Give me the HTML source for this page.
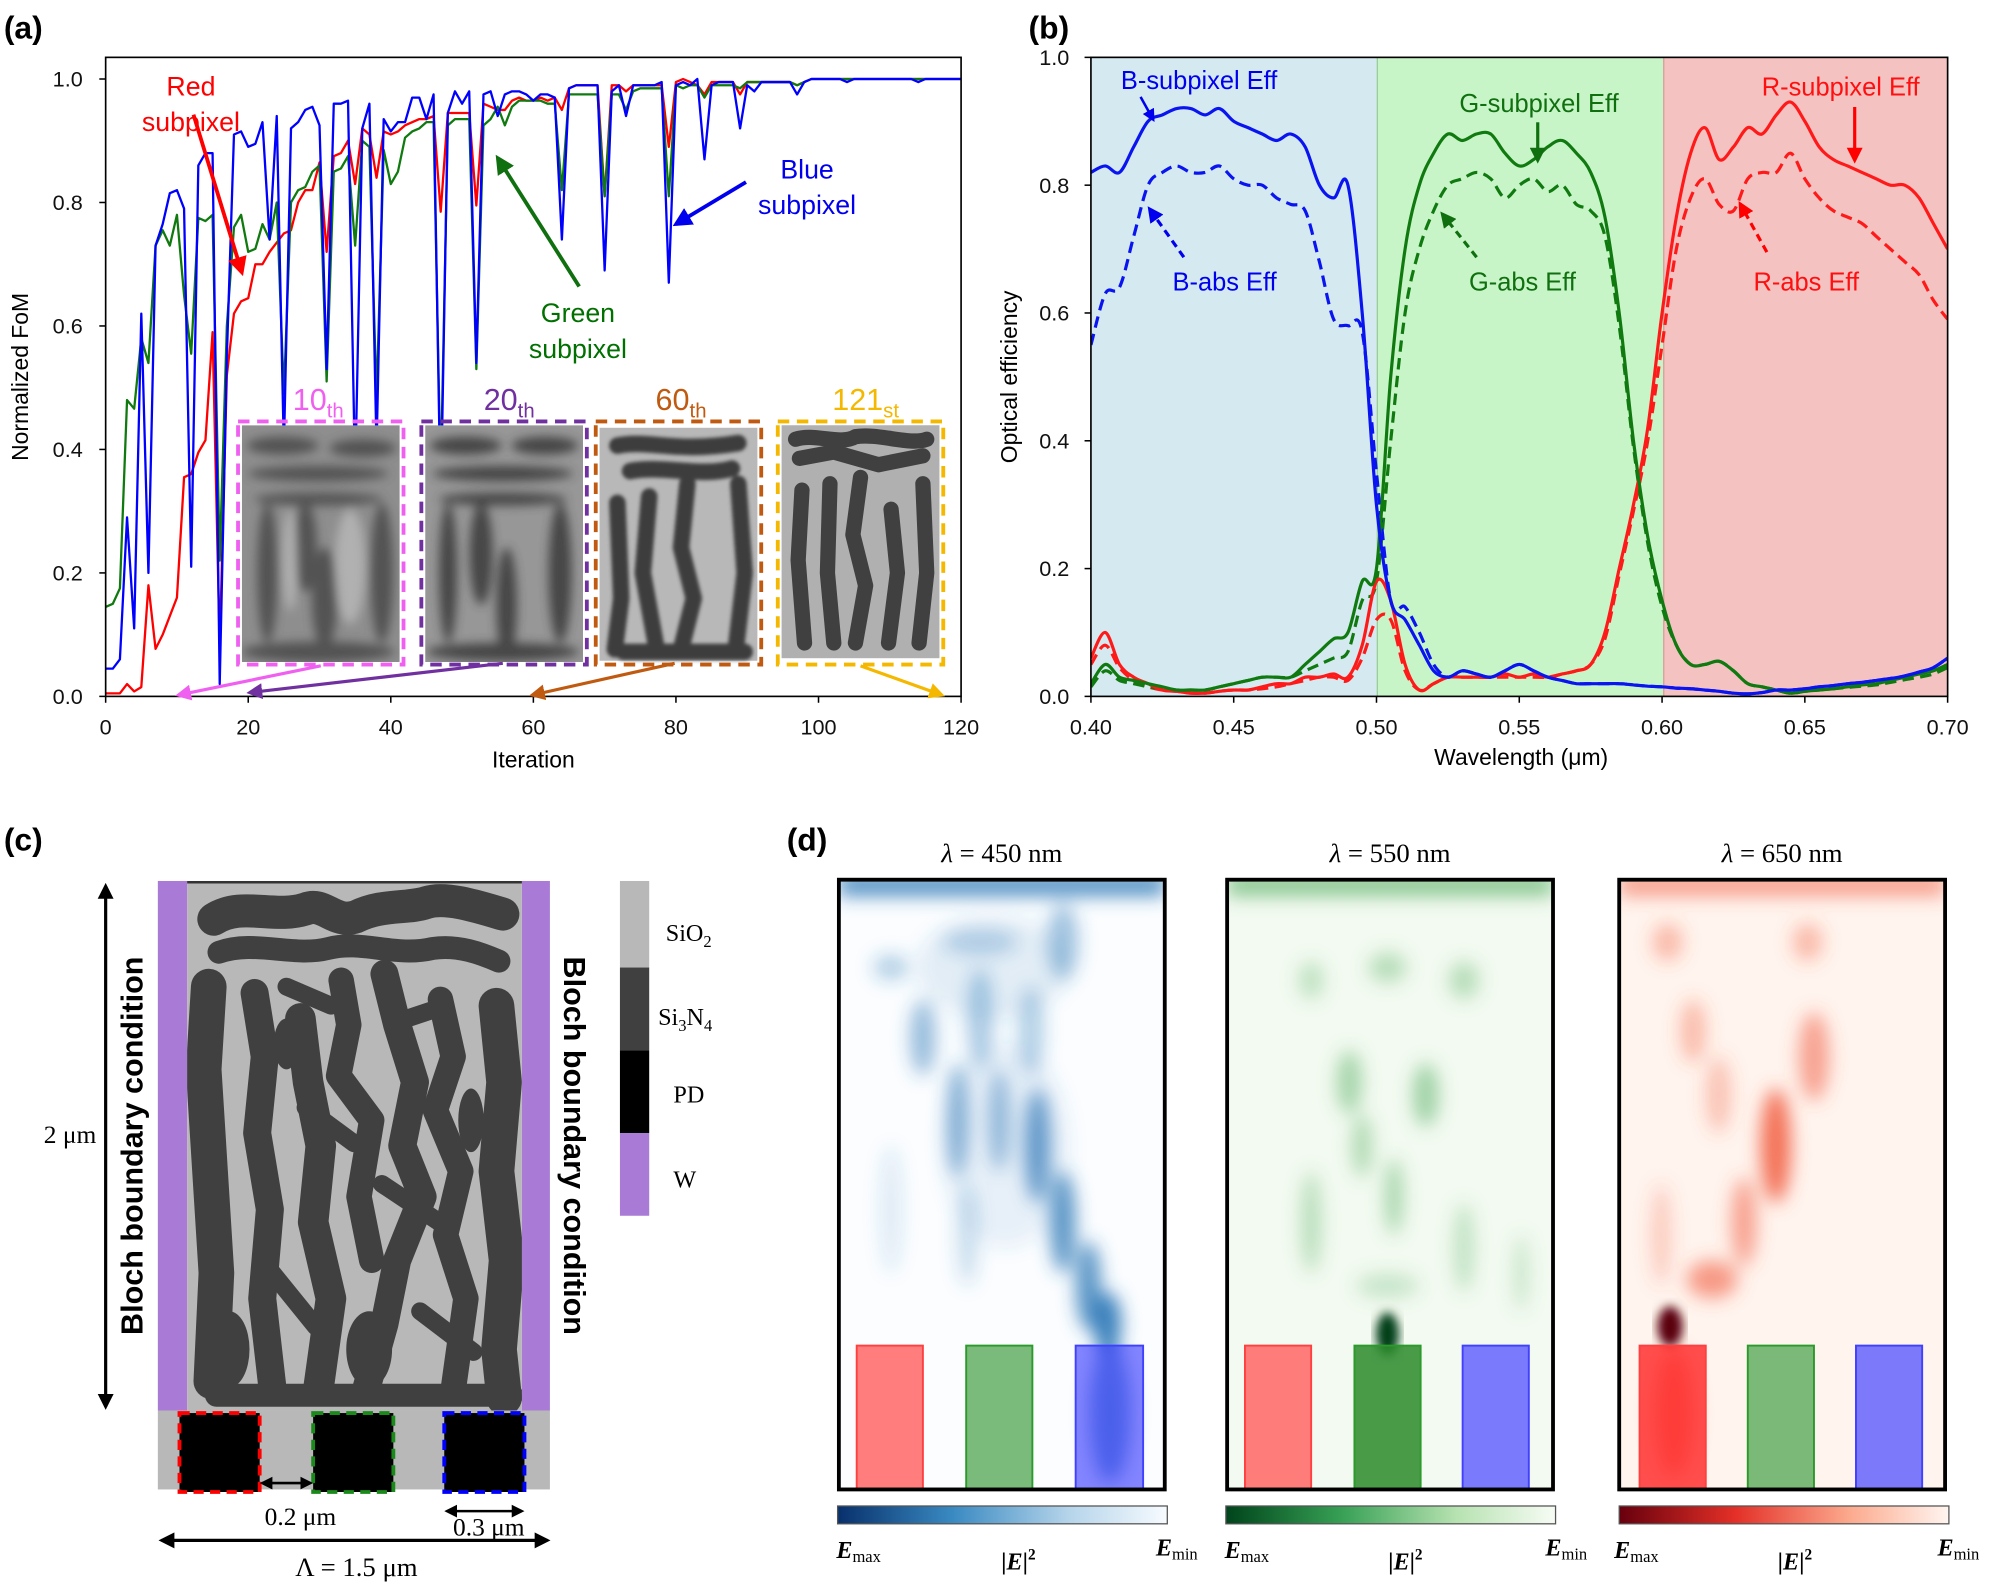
<!DOCTYPE html>
<html><head><meta charset="utf-8"><style>
html,body{margin:0;padding:0;background:#fff;}
svg{display:block;font-family:"Liberation Sans",sans-serif;}
.tk{font-size:17px;fill:#111;}
.serif{font-family:"Liberation Serif",serif;}
</style></head><body>
<svg id="fig" width="1996" height="1585" viewBox="0 0 1568 1245" xmlns="http://www.w3.org/2000/svg">
<defs>
<filter id="blur4" x="-20%" y="-20%" width="140%" height="140%"><feGaussianBlur stdDeviation="4"/></filter>
<filter id="blur7" x="-30%" y="-30%" width="160%" height="160%"><feGaussianBlur stdDeviation="7"/></filter>
<filter id="blur2"><feGaussianBlur stdDeviation="1.5"/></filter>
<clipPath id="clipA"><rect x="83" y="45" width="672" height="502"/></clipPath>
<clipPath id="clipB"><rect x="857" y="45" width="673" height="502"/></clipPath>
<clipPath id="m1"><rect x="659" y="691" width="256" height="479"/></clipPath>
<clipPath id="m2"><rect x="964" y="691" width="256" height="479"/></clipPath>
<clipPath id="m3"><rect x="1272" y="691" width="256" height="479"/></clipPath>
<clipPath id="cC"><rect x="147" y="692" width="263" height="416"/></clipPath>
<clipPath id="i1"><rect x="190" y="334" width="124" height="186"/></clipPath>
<clipPath id="i2"><rect x="334" y="334" width="124" height="186"/></clipPath>
<linearGradient id="cbB" x1="0" x2="1"><stop offset="0" stop-color="#08306b"/><stop offset="0.35" stop-color="#3a8ac2"/><stop offset="0.7" stop-color="#b5d4ea"/><stop offset="1" stop-color="#f7fbff"/></linearGradient>
<linearGradient id="cbG" x1="0" x2="1"><stop offset="0" stop-color="#00441b"/><stop offset="0.35" stop-color="#37a055"/><stop offset="0.7" stop-color="#b7e2b1"/><stop offset="1" stop-color="#f7fcf5"/></linearGradient>
<linearGradient id="cbR" x1="0" x2="1"><stop offset="0" stop-color="#67000d"/><stop offset="0.35" stop-color="#e32f27"/><stop offset="0.7" stop-color="#fcaa8e"/><stop offset="1" stop-color="#fff5f0"/></linearGradient>
<marker id="ah" viewBox="0 0 10 10" refX="8" refY="5" markerWidth="5" markerHeight="5" orient="auto-start-reverse"><path d="M0,0 L10,5 L0,10 z" fill="context-stroke"/></marker>
</defs>

<text x="3" y="30" font-size="25" font-weight="bold">(a)</text>
<text x="808" y="30" font-size="25" font-weight="bold">(b)</text>
<text x="3" y="668" font-size="25" font-weight="bold">(c)</text>
<text x="618" y="668" font-size="25" font-weight="bold">(d)</text>

<!-- Panel (a) -->
<g id="panelA">
  <g id="aLines" clip-path="url(#clipA)"></g>
  <g id="aTicks"></g>
  <rect x="83" y="45" width="672" height="502" fill="none" stroke="#000" stroke-width="1.3"/>
  <text x="419" y="603" text-anchor="middle" font-size="18">Iteration</text>
  <text x="0" y="0" transform="translate(22,296) rotate(-90)" text-anchor="middle" font-size="18">Normalized FoM</text>

  <g>
    <g clip-path="url(#i1)">
    <rect x="190" y="334" width="124" height="186" fill="#8e8e8e"/>
    <g filter="url(#blur4)" fill="#4a4a4a" opacity="0.85">
      <ellipse cx="222" cy="350" rx="28" ry="7"/><ellipse cx="285" cy="352" rx="26" ry="7"/>
      <ellipse cx="250" cy="372" rx="55" ry="6"/><ellipse cx="250" cy="392" rx="50" ry="5"/>
      <ellipse cx="210" cy="450" rx="8" ry="55"/><ellipse cx="240" cy="430" rx="9" ry="35"/>
      <ellipse cx="255" cy="470" rx="10" ry="40"/><ellipse cx="300" cy="450" rx="9" ry="55"/>
      <ellipse cx="250" cy="512" rx="60" ry="8"/>
    </g>
    <g filter="url(#blur4)" fill="#c0c0c0" opacity="0.7"><ellipse cx="228" cy="440" rx="6" ry="40"/><ellipse cx="275" cy="445" rx="12" ry="45"/></g>
    </g>
    <rect x="187" y="331" width="130" height="191" fill="none" stroke="#f060f0" stroke-width="3" stroke-dasharray="9,6"/>
  </g>
  <g>
    <g clip-path="url(#i2)">
    <rect x="334" y="334" width="124" height="186" fill="#979797"/>
    <g filter="url(#blur4)" fill="#3e3e3e" opacity="0.9">
      <ellipse cx="366" cy="350" rx="28" ry="7"/><ellipse cx="428" cy="350" rx="26" ry="7"/>
      <ellipse cx="395" cy="372" rx="55" ry="6"/><ellipse cx="395" cy="392" rx="50" ry="5"/>
      <ellipse cx="352" cy="450" rx="7" ry="55"/>
      <ellipse cx="378" cy="435" rx="9" ry="40"/><ellipse cx="398" cy="475" rx="8" ry="45"/>
      <ellipse cx="440" cy="450" rx="9" ry="55"/><ellipse cx="395" cy="512" rx="60" ry="7"/>
    </g>
    </g>
    <rect x="331" y="331" width="130" height="191" fill="none" stroke="#7030a0" stroke-width="3" stroke-dasharray="9,6"/>
  </g>
  <g>
    <rect x="471" y="336" width="124" height="183" fill="#b8b8b8"/>
    <g filter="url(#blur2)" fill="none" stroke="#3c3c3c" stroke-width="13" stroke-linecap="round" stroke-linejoin="round">
      <path d="M485,350 C510,345 530,356 580,348"/><path d="M495,370 C520,365 550,375 575,368"/>
      <path d="M485,395 L488,470 L483,510"/><path d="M510,390 L505,450 L515,505"/>
      <path d="M540,380 L535,430 L545,470 L535,510"/><path d="M580,380 L585,450 L578,510"/>
      <path d="M490,512 L585,512"/>
    </g>
    <rect x="468" y="331" width="130" height="191" fill="none" stroke="#c05a10" stroke-width="3" stroke-dasharray="9,6"/>
  </g>
  <g>
    <rect x="614" y="334" width="124" height="183" fill="#b0b0b0"/>
    <g fill="none" stroke="#404040" stroke-width="12" stroke-linecap="round" stroke-linejoin="round">
      <path d="M625,345 C640,340 660,350 672,343 C690,340 715,350 728,345"/><path d="M628,360 L655,355 L690,365 L725,358"/>
      <path d="M630,385 L627,440 L632,505"/><path d="M652,380 L650,450 L655,505"/>
      <path d="M676,375 L670,420 L680,460 L672,505"/><path d="M700,400 L705,450 L698,505"/>
      <path d="M725,380 L728,450 L722,505"/>
    </g>
    <rect x="611" y="331" width="130" height="191" fill="none" stroke="#f5b800" stroke-width="3" stroke-dasharray="9,6"/>
  </g>
  <text x="250" y="322" text-anchor="middle" font-size="24" fill="#f060f0">10<tspan font-size="16" dy="6">th</tspan></text>
  <text x="400" y="322" text-anchor="middle" font-size="24" fill="#7030a0">20<tspan font-size="16" dy="6">th</tspan></text>
  <text x="535" y="322" text-anchor="middle" font-size="24" fill="#c05a10">60<tspan font-size="16" dy="6">th</tspan></text>
  <text x="680" y="322" text-anchor="middle" font-size="24" fill="#f5b800">121<tspan font-size="16" dy="6">st</tspan></text>
  <line x1="252" y1="523" x2="140" y2="546" stroke="#f060f0" stroke-width="2.5" marker-end="url(#ah)"/>
  <line x1="395" y1="521" x2="196" y2="544" stroke="#7030a0" stroke-width="2.5" marker-end="url(#ah)"/>
  <line x1="530" y1="521" x2="418" y2="546" stroke="#c05a10" stroke-width="2.5" marker-end="url(#ah)"/>
  <line x1="676" y1="523" x2="740" y2="546" stroke="#f5b800" stroke-width="2.5" marker-end="url(#ah)"/>

  <text x="150" y="75" text-anchor="middle" font-size="21" fill="#f00">Red</text>
  <text x="150" y="103" text-anchor="middle" font-size="21" fill="#f00">subpixel</text>
  <line x1="152" y1="90" x2="190" y2="214" stroke="#f00" stroke-width="3" marker-end="url(#ah)"/>
  <text x="634" y="140" text-anchor="middle" font-size="21" fill="#0000ee">Blue</text>
  <text x="634" y="168" text-anchor="middle" font-size="21" fill="#0000ee">subpixel</text>
  <line x1="586" y1="143" x2="531" y2="176" stroke="#00e" stroke-width="3" marker-end="url(#ah)"/>
  <text x="454" y="253" text-anchor="middle" font-size="21" fill="#007000">Green</text>
  <text x="454" y="281" text-anchor="middle" font-size="21" fill="#007000">subpixel</text>
  <line x1="455" y1="225" x2="391" y2="124" stroke="#107010" stroke-width="3" marker-end="url(#ah)"/>
</g>

<!-- Panel (b) -->
<g id="panelB">
  <rect x="857" y="45" width="225" height="502" fill="#d4eaf0"/>
  <rect x="1082" y="45" width="225" height="502" fill="#c8f5c8"/>
  <rect x="1307" y="45" width="223" height="502" fill="#f5c2c2"/>
  <line x1="1082" y1="45" x2="1082" y2="547" stroke="#9c9" stroke-width="1"/>
  <line x1="1307" y1="45" x2="1307" y2="547" stroke="#d99" stroke-width="1"/>
  <g id="bLines" clip-path="url(#clipB)"></g>
  <g id="bTicks"></g>
  <rect x="857" y="45" width="673" height="502" fill="none" stroke="#000" stroke-width="1.3"/>
  <text x="1195" y="601" text-anchor="middle" font-size="18">Wavelength (μm)</text>
  <text transform="translate(799,296) rotate(-90)" text-anchor="middle" font-size="18">Optical efficiency</text>
  <text x="942" y="70" text-anchor="middle" font-size="20" fill="#0000ee">B-subpixel Eff</text>
  <line x1="896" y1="76" x2="906" y2="94" stroke="#00e" stroke-width="2" marker-end="url(#ah)"/>
  <text x="962" y="228" text-anchor="middle" font-size="20" fill="#0000ee">B-abs Eff</text>
  <line x1="930" y1="202" x2="903" y2="164" stroke="#00e" stroke-width="2.5" stroke-dasharray="6,4" marker-end="url(#ah)"/>
  <text x="1209" y="88" text-anchor="middle" font-size="20" fill="#107010">G-subpixel Eff</text>
  <line x1="1208" y1="96" x2="1208" y2="126" stroke="#107010" stroke-width="2.5" marker-end="url(#ah)"/>
  <text x="1196" y="228" text-anchor="middle" font-size="20" fill="#107010">G-abs Eff</text>
  <line x1="1160" y1="202" x2="1133" y2="168" stroke="#107010" stroke-width="2.5" stroke-dasharray="6,4" marker-end="url(#ah)"/>
  <text x="1446" y="75" text-anchor="middle" font-size="20" fill="#ff1010">R-subpixel Eff</text>
  <line x1="1457" y1="84" x2="1457" y2="126" stroke="#f00" stroke-width="2.5" marker-end="url(#ah)"/>
  <text x="1419" y="228" text-anchor="middle" font-size="20" fill="#ff1010">R-abs Eff</text>
  <line x1="1388" y1="198" x2="1367" y2="160" stroke="#f00" stroke-width="2.5" stroke-dasharray="6,4" marker-end="url(#ah)"/>
</g>

<!-- Panel (c) -->
<g id="panelC">
  <rect x="124" y="692" width="23" height="416" fill="#a97bd6"/>
  <rect x="410" y="692" width="22" height="416" fill="#a97bd6"/>
  <rect x="147" y="692" width="263" height="416" fill="#b8b8b8"/>
  <g clip-path="url(#cC)">
  <g fill="none" stroke="#404040" stroke-linecap="round" stroke-linejoin="round">
    <path stroke-width="26" d="M168,722 C190,708 215,722 240,714 C255,708 262,726 280,720 C300,710 320,714 335,709 C350,704 375,712 395,718"/>
    <path stroke-width="18" d="M172,748 C200,738 230,752 258,745 C285,738 310,752 340,745 C360,742 378,749 392,755"/>
    <path stroke-width="28" d="M164,775 L160,840 L165,920 L170,1000 L166,1085"/>
    <path stroke-width="22" d="M200,780 L208,830 L202,890 L212,950 L206,1020 L214,1090"/>
    <path stroke-width="24" d="M236,800 L242,850 L252,900 L246,960 L260,1020 L250,1092"/>
    <path stroke-width="20" d="M268,770 L274,805 L266,845 L292,880 L282,940 L292,990"/>
    <path stroke-width="22" d="M302,765 L312,805 L326,850 L316,900 L332,940 L312,990 L302,1040 L288,1090"/>
    <path stroke-width="20" d="M346,785 L356,830 L342,872 L362,920 L350,970 L366,1020 L356,1092"/>
    <path stroke-width="28" d="M390,790 L396,850 L390,920 L398,990 L392,1060 L396,1098"/>
    <path stroke-width="18" d="M170,1096 L402,1096"/>
    <path stroke-width="14" d="M240,870 L278,898 M300,930 L348,962 M214,1000 L248,1042 M330,1030 L372,1062 M320,800 L350,790 M225,775 L260,790"/>
  </g>
  <g fill="#404040">
    <ellipse cx="290" cy="1060" rx="18" ry="30"/><ellipse cx="180" cy="1060" rx="16" ry="30"/>
    <ellipse cx="370" cy="880" rx="10" ry="25"/><ellipse cx="225" cy="820" rx="10" ry="20"/>
  </g>
  </g>
  <line x1="147" y1="693" x2="410" y2="693" stroke="#333" stroke-width="2"/>
  <rect x="124" y="1108" width="308" height="62" fill="#b8b8b8"/>
  <rect x="141" y="1110" width="63" height="62" fill="#000" stroke="#f00" stroke-width="3" stroke-dasharray="8,5"/>
  <rect x="246" y="1110" width="63" height="62" fill="#000" stroke="#1a8a1a" stroke-width="3" stroke-dasharray="8,5"/>
  <rect x="349" y="1110" width="63" height="62" fill="#000" stroke="#00f" stroke-width="3" stroke-dasharray="8,5"/>
  <line x1="83" y1="696" x2="83" y2="1105" stroke="#000" stroke-width="2.5" marker-start="url(#ah)" marker-end="url(#ah)"/>
  <text x="55" y="898" text-anchor="middle" font-size="20" class="serif">2 μm</text>
  <text transform="translate(112,900) rotate(-90)" text-anchor="middle" font-size="24" font-weight="bold">Bloch boundary condition</text>
  <text transform="translate(443,900) rotate(90)" text-anchor="middle" font-size="24" font-weight="bold">Bloch boundary condition</text>
  <line x1="206" y1="1165" x2="244" y2="1165" stroke="#000" stroke-width="2" marker-start="url(#ah)" marker-end="url(#ah)"/>
  <text x="236" y="1198" text-anchor="middle" font-size="20" class="serif">0.2 μm</text>
  <line x1="351" y1="1187" x2="410" y2="1187" stroke="#000" stroke-width="2" marker-start="url(#ah)" marker-end="url(#ah)"/>
  <text x="384" y="1206" text-anchor="middle" font-size="20" class="serif">0.3 μm</text>
  <line x1="127" y1="1210" x2="430" y2="1210" stroke="#000" stroke-width="2.5" marker-start="url(#ah)" marker-end="url(#ah)"/>
  <text x="280" y="1238" text-anchor="middle" font-size="21" class="serif">Λ = 1.5 μm</text>
  <rect x="487" y="692" width="23" height="68" fill="#b8b8b8"/>
  <rect x="487" y="760" width="23" height="65" fill="#404040"/>
  <rect x="487" y="825" width="23" height="65" fill="#000"/>
  <rect x="487" y="890" width="23" height="65" fill="#a97bd6"/>
  <text x="523" y="739" font-size="19" class="serif">SiO<tspan font-size="13" dy="5">2</tspan></text>
  <text x="517" y="805" font-size="19" class="serif">Si<tspan font-size="13" dy="5">3</tspan><tspan dy="-5">N</tspan><tspan font-size="13" dy="5">4</tspan></text>
  <text x="529" y="866" font-size="19" class="serif">PD</text>
  <text x="529" y="933" font-size="19" class="serif">W</text>
</g>

<!-- Panel (d) -->
<g id="panelD">
  <text x="787" y="677" text-anchor="middle" font-size="21" class="serif"><tspan font-style="italic">λ</tspan> =  450 nm</text>
  <text x="1092" y="677" text-anchor="middle" font-size="21" class="serif"><tspan font-style="italic">λ</tspan> =  550 nm</text>
  <text x="1400" y="677" text-anchor="middle" font-size="21" class="serif"><tspan font-style="italic">λ</tspan> =  650 nm</text>

  <g clip-path="url(#m1)">
    <rect x="659" y="691" width="256" height="479" fill="#fbfdff"/>
    <g filter="url(#blur7)" fill="#2f7ab8">
      <rect x="659" y="686" width="256" height="18" opacity="0.8"/>
      <ellipse cx="700" cy="760" rx="14" ry="10" opacity="0.35"/><ellipse cx="770" cy="740" rx="30" ry="10" opacity="0.3"/>
      <ellipse cx="835" cy="740" rx="12" ry="30" opacity="0.45"/><ellipse cx="725" cy="815" rx="10" ry="30" opacity="0.5"/>
      <ellipse cx="770" cy="800" rx="10" ry="40" opacity="0.4"/><ellipse cx="810" cy="810" rx="10" ry="35" opacity="0.35"/>
      <ellipse cx="752" cy="880" rx="8" ry="45" opacity="0.6"/><ellipse cx="785" cy="880" rx="8" ry="40" opacity="0.5"/>
      <ellipse cx="815" cy="900" rx="10" ry="45" opacity="0.75"/><ellipse cx="835" cy="960" rx="10" ry="40" opacity="0.8"/>
      <ellipse cx="855" cy="1010" rx="10" ry="35" opacity="0.8"/><ellipse cx="870" cy="1040" rx="11" ry="25" opacity="0.95"/>
      <ellipse cx="760" cy="970" rx="8" ry="40" opacity="0.25"/><ellipse cx="700" cy="950" rx="8" ry="50" opacity="0.15"/>
      <ellipse cx="780" cy="760" rx="60" ry="40" opacity="0.12"/><ellipse cx="790" cy="900" rx="50" ry="80" opacity="0.1"/>
      <ellipse cx="872" cy="1110" rx="16" ry="55" opacity="0.7"/>
    </g>
    <rect x="673" y="1057" width="52" height="113" fill="#ff6666" fill-opacity="0.85" stroke="#ff4040" stroke-width="1.5"/>
    <rect x="759" y="1057" width="52" height="113" fill="#5aaa5a" fill-opacity="0.8" stroke="#2a9a2a" stroke-width="1.5"/>
    <rect x="845" y="1057" width="53" height="113" fill="#3333ff" fill-opacity="0.6" stroke="#4040ff" stroke-width="1.5"/>
  </g>
  <rect x="659" y="691" width="256" height="479" fill="none" stroke="#000" stroke-width="3"/>

  <g clip-path="url(#m2)">
    <rect x="964" y="691" width="256" height="479" fill="#f3faf1"/>
    <g filter="url(#blur7)" fill="#48a855">
      <rect x="964" y="686" width="256" height="18" opacity="0.6"/>
      <ellipse cx="1030" cy="770" rx="10" ry="15" opacity="0.3"/><ellipse cx="1090" cy="760" rx="15" ry="12" opacity="0.35"/>
      <ellipse cx="1150" cy="770" rx="12" ry="15" opacity="0.35"/><ellipse cx="1060" cy="850" rx="10" ry="25" opacity="0.45"/>
      <ellipse cx="1120" cy="860" rx="10" ry="25" opacity="0.5"/><ellipse cx="1070" cy="900" rx="8" ry="25" opacity="0.4"/>
      <ellipse cx="1095" cy="940" rx="7" ry="30" opacity="0.45"/><ellipse cx="1030" cy="960" rx="8" ry="40" opacity="0.35"/>
      <ellipse cx="1150" cy="980" rx="8" ry="35" opacity="0.3"/><ellipse cx="1195" cy="1000" rx="6" ry="30" opacity="0.25"/>
      <ellipse cx="1090" cy="1010" rx="25" ry="10" opacity="0.25"/>
    </g>
    <ellipse cx="1090" cy="1048" rx="9" ry="17" fill="#003d18" filter="url(#blur4)"/>
    <rect x="978" y="1057" width="52" height="113" fill="#ff6666" fill-opacity="0.85" stroke="#ff4040" stroke-width="1.5"/>
    <rect x="1064" y="1057" width="52" height="113" fill="#2a8a2a" fill-opacity="0.85" stroke="#2a9a2a" stroke-width="1.5"/>
    <rect x="1149" y="1057" width="52" height="113" fill="#5050ff" fill-opacity="0.75" stroke="#4040ff" stroke-width="1.5"/>
  </g>
  <rect x="964" y="691" width="256" height="479" fill="none" stroke="#000" stroke-width="3"/>

  <g clip-path="url(#m3)">
    <rect x="1272" y="691" width="256" height="479" fill="#fff4ee"/>
    <g filter="url(#blur7)" fill="#f0502f">
      <rect x="1272" y="686" width="256" height="18" opacity="0.5"/>
      <ellipse cx="1310" cy="740" rx="12" ry="15" opacity="0.35"/><ellipse cx="1420" cy="740" rx="12" ry="15" opacity="0.35"/>
      <ellipse cx="1330" cy="810" rx="10" ry="25" opacity="0.35"/><ellipse cx="1425" cy="830" rx="12" ry="35" opacity="0.5"/>
      <ellipse cx="1350" cy="860" rx="10" ry="30" opacity="0.3"/><ellipse cx="1395" cy="900" rx="12" ry="45" opacity="0.8"/>
      <ellipse cx="1370" cy="960" rx="10" ry="35" opacity="0.5"/><ellipse cx="1345" cy="1005" rx="20" ry="15" opacity="0.55"/>
      <ellipse cx="1305" cy="970" rx="8" ry="40" opacity="0.25"/><ellipse cx="1315" cy="1110" rx="15" ry="50" opacity="0.7"/>
    </g>
    <ellipse cx="1312" cy="1042" rx="10" ry="16" fill="#5a0008" filter="url(#blur4)"/>
    <rect x="1288" y="1057" width="52" height="113" fill="#ff3030" fill-opacity="0.85" stroke="#ff4040" stroke-width="1.5"/>
    <rect x="1373" y="1057" width="52" height="113" fill="#5aaa5a" fill-opacity="0.8" stroke="#2a9a2a" stroke-width="1.5"/>
    <rect x="1458" y="1057" width="52" height="113" fill="#5050ff" fill-opacity="0.75" stroke="#4040ff" stroke-width="1.5"/>
  </g>
  <rect x="1272" y="691" width="256" height="479" fill="none" stroke="#000" stroke-width="3"/>

  <rect x="658" y="1183" width="259" height="14" fill="url(#cbB)" stroke="#555" stroke-width="1"/>
  <rect x="963" y="1183" width="259" height="14" fill="url(#cbG)" stroke="#555" stroke-width="1"/>
  <rect x="1272" y="1183" width="259" height="14" fill="url(#cbR)" stroke="#555" stroke-width="1"/>
  <g class="serif" font-size="19" font-weight="bold">
    <text x="657" y="1224" font-style="italic">E<tspan font-size="13" font-style="normal" font-weight="normal" dy="3">max</tspan></text>
    <text x="908" y="1222" font-style="italic">E<tspan font-size="13" font-style="normal" font-weight="normal" dy="3">min</tspan></text>
    <text x="800" y="1233" text-anchor="middle">|<tspan font-style="italic">E</tspan>|<tspan font-size="12" dy="-8">2</tspan></text>
    <text x="962" y="1224" font-style="italic">E<tspan font-size="13" font-style="normal" font-weight="normal" dy="3">max</tspan></text>
    <text x="1214" y="1222" font-style="italic">E<tspan font-size="13" font-style="normal" font-weight="normal" dy="3">min</tspan></text>
    <text x="1104" y="1233" text-anchor="middle">|<tspan font-style="italic">E</tspan>|<tspan font-size="12" dy="-8">2</tspan></text>
    <text x="1268" y="1224" font-style="italic">E<tspan font-size="13" font-style="normal" font-weight="normal" dy="3">max</tspan></text>
    <text x="1522" y="1222" font-style="italic">E<tspan font-size="13" font-style="normal" font-weight="normal" dy="3">min</tspan></text>
    <text x="1410" y="1233" text-anchor="middle">|<tspan font-style="italic">E</tspan>|<tspan font-size="12" dy="-8">2</tspan></text>
  </g>
</g>
</svg>
<script>
// ---- Panel (a) data ----
const aTickX = [0,20,40,60,80,100,120];
const aTickY = [0.0,0.2,0.4,0.6,0.8,1.0];
const blueFoM = [.045,.045,.06,.29,.11,.62,.20,.73,.765,.815,
 .82,.79,.21,.86,.88,.88,.02,.55,.91,.915,
 .89,.895,.93,.74,.94,.40,.92,.93,.95,.955,
 .925,.53,.96,.96,.965,.35,.92,.96,.40,.935,
 .915,.93,.93,.97,.97,.935,.975,.30,.945,.98,
 .96,.98,.54,.975,.98,.94,.975,.98,.98,.975,
 .965,.975,.975,.97,.74,.985,.99,.99,.99,.99,
 .69,.98,.99,.94,.99,.99,.99,.99,.995,.67,
 .99,.995,.99,1.0,.87,.99,.995,.995,.995,.92,
 .99,.98,.995,.995,.995,.995,.995,.975,.995,1,
 1,1,1,1,.995,1,1,1,1,1,
 1,1,1,1,.995,1,1,1,1,1,1];
const redFoM = [.005,.005,.005,.02,.008,.015,.18,.077,.10,.13,
 .16,.355,.36,.395,.415,.59,.08,.52,.62,.64,
 .645,.70,.70,.72,.735,.75,.755,.80,.82,.82,
 .865,.72,.875,.88,.90,.83,.92,.91,.84,.915,
 .91,.915,.925,.93,.935,.935,.94,.785,.945,.945,
 .945,.945,.795,.96,.955,.95,.95,.965,.97,.965,
 .965,.97,.965,.97,.95,.985,.99,.99,.99,.99,
 .81,.99,.99,.98,.99,.99,.99,.99,.99,.89,
 .995,1.0,.995,.99,.975,.995,.995,.995,.995,.975,
 .995,.995,.995,.995,.995,.995,.995,.99,.995,1,
 1,1,1,1,1,1,1,1,1,1,
 1,1,1,1,1,1,1,1,1,1,1];
const greenFoM = [.145,.15,.175,.48,.466,.58,.54,.73,.755,.73,
 .78,.65,.555,.775,.77,.78,.22,.60,.76,.78,
 .72,.725,.765,.74,.80,.49,.80,.82,.825,.85,
 .86,.51,.85,.855,.875,.73,.90,.89,.48,.885,
 .83,.85,.905,.915,.92,.93,.93,.35,.925,.935,
 .935,.935,.53,.925,.935,.955,.925,.955,.965,.965,
 .965,.965,.96,.96,.82,.975,.975,.975,.975,.975,
 .81,.975,.975,.95,.98,.985,.985,.985,.985,.81,
 .99,.985,.99,.99,.97,.99,.99,.99,.99,.985,
 .995,.995,.995,.995,.995,.995,.995,.99,.995,1,
 1,1,1,1,1,1,1,1,1,1,
 1,1,1,1,1,1,1,1,1,1,1];

// ---- Panel (b) data ----
const wavelengths = [0.400,0.405,0.410,0.415,0.420,0.425,0.430,0.435,0.440,0.445,0.450,0.455,0.460,0.465,0.470,0.475,0.480,0.485,0.490,0.495,0.500,0.505,0.510,0.515,0.520,0.525,0.530,0.535,0.540,0.545,0.550,0.555,0.560,0.565,0.570,0.575,0.580,0.585,0.590,0.595,0.600,0.605,0.610,0.615,0.620,0.625,0.630,0.635,0.640,0.645,0.650,0.655,0.660,0.665,0.670,0.675,0.680,0.685,0.690,0.695,0.700];
const bTickX = [0.40,0.45,0.50,0.55,0.60,0.65,0.70];
const bTickY = [0.0,0.2,0.4,0.6,0.8,1.0];
const bSubEff = [.82,.83,.82,.86,.90,.91,.92,.92,.91,.92,.90,.89,.88,.87,.88,.86,.80,.78,.80,.60,.30,.15,.12,.08,.04,.03,.04,.035,.03,.04,.05,.04,.03,.025,.02,.02,.02,.02,.018,.016,.015,.013,.012,.01,.008,.005,.004,.006,.01,.01,.012,.015,.017,.02,.022,.025,.028,.032,.038,.045,.06];
const bAbsEff = [.55,.63,.64,.72,.80,.82,.83,.82,.82,.83,.81,.80,.80,.78,.77,.76,.68,.59,.58,.57,.35,.15,.14,.10,.05,.03,.04,.035,.03,.04,.05,.04,.03,.025,.02,.02,.02,.02,.018,.016,.015,.013,.012,.01,.008,.005,.004,.006,.01,.01,.012,.015,.017,.02,.022,.025,.028,.032,.038,.045,.06];
const gSubEff = [.02,.05,.03,.025,.02,.015,.01,.01,.01,.015,.02,.025,.03,.03,.03,.05,.07,.09,.10,.18,.20,.50,.70,.80,.85,.88,.87,.88,.88,.85,.83,.84,.86,.87,.85,.82,.75,.60,.40,.25,.15,.08,.05,.05,.055,.04,.02,.015,.01,.005,.008,.01,.012,.015,.018,.02,.025,.03,.035,.04,.05];
const gAbsEff = [.015,.04,.025,.02,.015,.012,.01,.01,.01,.015,.02,.025,.03,.03,.03,.04,.05,.06,.07,.15,.18,.40,.60,.70,.76,.80,.81,.82,.81,.78,.80,.81,.79,.80,.77,.76,.72,.58,.39,.24,.14,.08,.05,.05,.055,.04,.02,.015,.01,.005,.008,.01,.012,.014,.016,.018,.022,.026,.03,.035,.045];
const rSubEff = [.06,.10,.05,.03,.02,.01,.008,.005,.005,.008,.01,.01,.015,.02,.02,.03,.03,.035,.03,.08,.18,.15,.05,.01,.02,.03,.03,.03,.03,.035,.03,.035,.03,.035,.04,.05,.10,.20,.30,.42,.60,.75,.85,.89,.84,.86,.89,.88,.91,.93,.90,.86,.84,.83,.82,.81,.80,.80,.78,.74,.70];
const rAbsEff = [.05,.08,.045,.025,.015,.01,.008,.005,.005,.008,.01,.01,.012,.015,.02,.025,.03,.03,.025,.06,.12,.12,.04,.01,.02,.03,.03,.03,.03,.03,.03,.03,.03,.035,.04,.05,.09,.19,.29,.40,.55,.70,.78,.81,.77,.76,.81,.82,.82,.85,.81,.78,.76,.75,.74,.72,.70,.68,.66,.62,.59];

const NS = "http://www.w3.org/2000/svg";
function mk(tag, attrs, parent){const e=document.createElementNS(NS,tag);for(const k in attrs)e.setAttribute(k,attrs[k]);parent.appendChild(e);return e;}

const axA = {x:v=>83+v*(672/120), y:v=>547-v*485};
const axB = {x:v=>857+(v-0.4)*(673/0.3), y:v=>547-v*502};

const aT = document.getElementById('aTicks');
aTickX.forEach(v=>{
  const l=mk('line',{x1:axA.x(v),x2:axA.x(v),y1:547,y2:552,stroke:'#000','stroke-width':1.2},aT);
  
  
  const t=mk('text',{x:axA.x(v),y:577,'text-anchor':'middle',class:'tk'},aT);t.textContent=String(v);
  
  
});
aTickY.forEach(v=>{
  const l=mk('line',{x1:78,x2:83,y1:axA.y(v),y2:axA.y(v),stroke:'#000','stroke-width':1.2},aT);
  
  
  const t=mk('text',{x:65,y:axA.y(v)+6,'text-anchor':'end',class:'tk'},aT);t.textContent=v.toFixed(1);
  
  
});
const aL=document.getElementById('aLines');
[[redFoM,'#ff0000','red-subpixel-line'],[greenFoM,'#107a10','green-subpixel-line'],[blueFoM,'#0000ff','blue-subpixel-line']].forEach(([arr,c,n])=>{
  const pts=arr.map((v,i)=>axA.x(i).toFixed(1)+','+axA.y(v).toFixed(1)).join(' ');
  const p=mk('polyline',{points:pts,fill:'none',stroke:c,'stroke-width':1.8,'stroke-linejoin':'round'},aL);
  
  
});

const bT=document.getElementById('bTicks');
bTickX.forEach(v=>{
  const l=mk('line',{x1:axB.x(v),x2:axB.x(v),y1:547,y2:552,stroke:'#000','stroke-width':1.2},bT);
  
  
  const t=mk('text',{x:axB.x(v),y:577,'text-anchor':'middle',class:'tk'},bT);t.textContent=v.toFixed(2);
  
  
});
bTickY.forEach(v=>{
  const l=mk('line',{x1:852,x2:857,y1:axB.y(v),y2:axB.y(v),stroke:'#000','stroke-width':1.2},bT);
  
  
  const t=mk('text',{x:840,y:axB.y(v)+6,'text-anchor':'end',class:'tk'},bT);t.textContent=v.toFixed(1);
  
  
});
const bL=document.getElementById('bLines');
function smooth(arr){
  const P=arr.map((v,i)=>[axB.x(wavelengths[i]),axB.y(v)]);
  let d='M'+P[0][0].toFixed(1)+','+P[0][1].toFixed(1);
  for(let i=0;i<P.length-1;i++){
    const p0=P[Math.max(i-1,0)],p1=P[i],p2=P[i+1],p3=P[Math.min(i+2,P.length-1)];
    const c1=[p1[0]+(p2[0]-p0[0])/6,p1[1]+(p2[1]-p0[1])/6];
    const c2=[p2[0]-(p3[0]-p1[0])/6,p2[1]-(p3[1]-p1[1])/6];
    d+=' C'+c1[0].toFixed(1)+','+c1[1].toFixed(1)+' '+c2[0].toFixed(1)+','+c2[1].toFixed(1)+' '+p2[0].toFixed(1)+','+p2[1].toFixed(1);
  }
  return d;
}
[[rAbsEff,'#ff1a1a',true,'r-abs-line'],[gAbsEff,'#107a10',true,'g-abs-line'],[bAbsEff,'#0a14f0',true,'b-abs-line'],
 [rSubEff,'#ff1a1a',false,'r-subpixel-line'],[gSubEff,'#107a10',false,'g-subpixel-line'],[bSubEff,'#0a14f0',false,'b-subpixel-line']].forEach(([arr,c,dash,n])=>{
  const a={d:smooth(arr),fill:'none',stroke:c,'stroke-width':2.5};
  if(dash)a['stroke-dasharray']='9,5';
  const p=mk('path',a,bL);
  
  
});
</script>
</body></html>
